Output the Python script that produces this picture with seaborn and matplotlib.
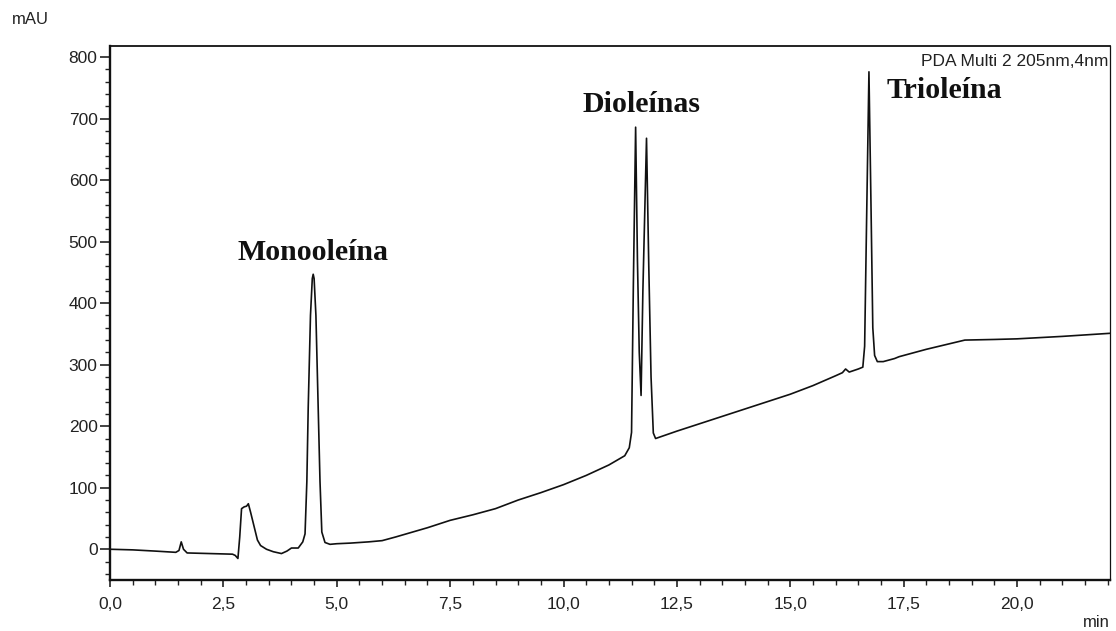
import matplotlib
matplotlib.use("Agg")
import matplotlib.pyplot as plt
from matplotlib.ticker import MultipleLocator, FixedLocator, FixedFormatter
import numpy as np
import pandas as pd
import seaborn as sns

# Retention time (min) and detector signal (mAU) of the PDA trace
time_min = [
    0.00, 0.50, 1.00, 1.45, 1.52, 1.57, 1.62, 1.70, 2.20, 2.70, 2.76, 2.82,
    2.86, 2.90, 2.96, 3.01, 3.05, 3.10, 3.18, 3.25, 3.32, 3.45, 3.60, 3.78,
    3.90, 4.00, 4.15, 4.25, 4.30, 4.34, 4.37, 4.42, 4.46, 4.48, 4.50, 4.54,
    4.59, 4.63, 4.67, 4.74, 4.85, 5.00, 5.30, 5.70, 6.00, 6.30, 7.00, 7.50,
    8.00, 8.50, 9.00, 9.50, 10.00, 10.50, 11.00, 11.35, 11.45, 11.50, 11.54,
    11.59, 11.63, 11.67, 11.71, 11.75, 11.83, 11.88, 11.93, 11.98, 12.03,
    12.50, 13.00, 13.50, 14.00, 14.50, 15.00, 15.50, 16.00, 16.15, 16.22,
    16.30, 16.50, 16.60, 16.64, 16.68, 16.735, 16.78, 16.82, 16.86, 16.92,
    17.05, 17.30, 17.40, 18.00, 18.85, 19.50, 20.00, 21.00, 22.05,
]
signal_mau = [
    0, -1, -3, -5, -2, 12, 0, -6, -7, -8, -10, -15,
    20, 66, 69, 70, 74, 60, 36, 15, 6, 0, -4, -7,
    -3, 2, 2, 12, 25, 110, 230, 380, 440, 447, 440, 380,
    230, 110, 28, 11, 8, 9, 10, 12, 14, 20, 35, 47,
    56, 66, 80, 92, 105, 120, 137, 152, 165, 190, 430,
    686, 470, 320, 250, 420, 668, 460, 280, 189, 180,
    192, 204, 216, 228, 240, 252, 266, 282, 287, 293,
    288, 293, 296, 330, 520, 776, 560, 360, 315, 305,
    305, 310, 313, 325, 340, 341, 342, 346, 351,
]

# Peak annotations: (label, time, signal)
peak_labels = ["Monooleína", "Dioleínas", "Trioleína"]
peak_label_time = [4.48, 11.73, 17.13]
peak_label_mau = [470, 711, 733]

x_ticks = [0.0, 2.5, 5.0, 7.5, 10.0, 12.5, 15.0, 17.5, 20.0]
x_tick_labels = ["0,0", "2,5", "5,0", "7,5", "10,0", "12,5", "15,0", "17,5", "20,0"]
y_ticks = [0, 100, 200, 300, 400, 500, 600, 700, 800]
y_tick_labels = ["0", "100", "200", "300", "400", "500", "600", "700", "800"]

trace = pd.DataFrame({"time": time_min, "mAU": signal_mau})

sns.set_theme(style="white")
plt.rcParams["font.family"] = ["Liberation Sans", "DejaVu Sans"]

fig = plt.figure(figsize=(11.16, 6.31), dpi=100)
ax = fig.add_axes([0.0986, 0.0808, 0.896, 0.8463])

sns.lineplot(data=trace, x="time", y="mAU", ax=ax, color="#111111",
             linewidth=1.2, estimator=None, sort=False)

ax.set_xlim(0, 22.05)
ax.set_ylim(-50, 818)
ax.set_xlabel("")
ax.set_ylabel("")

ax.xaxis.set_major_locator(FixedLocator(x_ticks))
ax.xaxis.set_major_formatter(FixedFormatter(x_tick_labels))
ax.xaxis.set_minor_locator(MultipleLocator(0.5))
ax.yaxis.set_major_locator(FixedLocator(y_ticks))
ax.yaxis.set_major_formatter(FixedFormatter(y_tick_labels))
ax.yaxis.set_minor_locator(MultipleLocator(20))

ax.tick_params(axis="x", which="major", direction="out", length=5, width=1.2,
               pad=7, labelsize=12.5, colors="#222222", bottom=True)
ax.tick_params(axis="x", which="minor", direction="out", length=3.5, width=1.0,
               color="#222222", bottom=True)
ax.tick_params(axis="y", which="major", direction="out", length=7, width=1.2,
               pad=2, labelsize=12.5, colors="#222222", left=True)
ax.tick_params(axis="y", which="minor", direction="out", length=3.5, width=1.0,
               color="#222222", left=True)

for side, lw in (("left", 1.7), ("bottom", 1.7), ("top", 1.3), ("right", 0.9)):
    ax.spines[side].set_visible(True)
    ax.spines[side].set_color("#111111")
    ax.spines[side].set_linewidth(lw)

# Compound labels
label_align = ["center", "center", "left"]
for name, t, v, ha in zip(peak_labels, peak_label_time, peak_label_mau, label_align):
    ax.text(t, v, name, ha=ha, va="baseline", fontsize=21.5, fontweight="bold",
            family=["Liberation Serif", "DejaVu Serif"], color="#111111")

ax.text(0.998, 0.962, "PDA Multi 2 205nm,4nm", transform=ax.transAxes,
        ha="right", va="baseline", fontsize=12.5, color="#222222")

fig.text(0.0108, 0.962, "mAU", ha="left", va="baseline", fontsize=12,
         color="#222222")
fig.text(0.9946, 0.007, "min", ha="right", va="baseline", fontsize=12,
         color="#222222")

fig.savefig("out.png", dpi=100, facecolor="white")
